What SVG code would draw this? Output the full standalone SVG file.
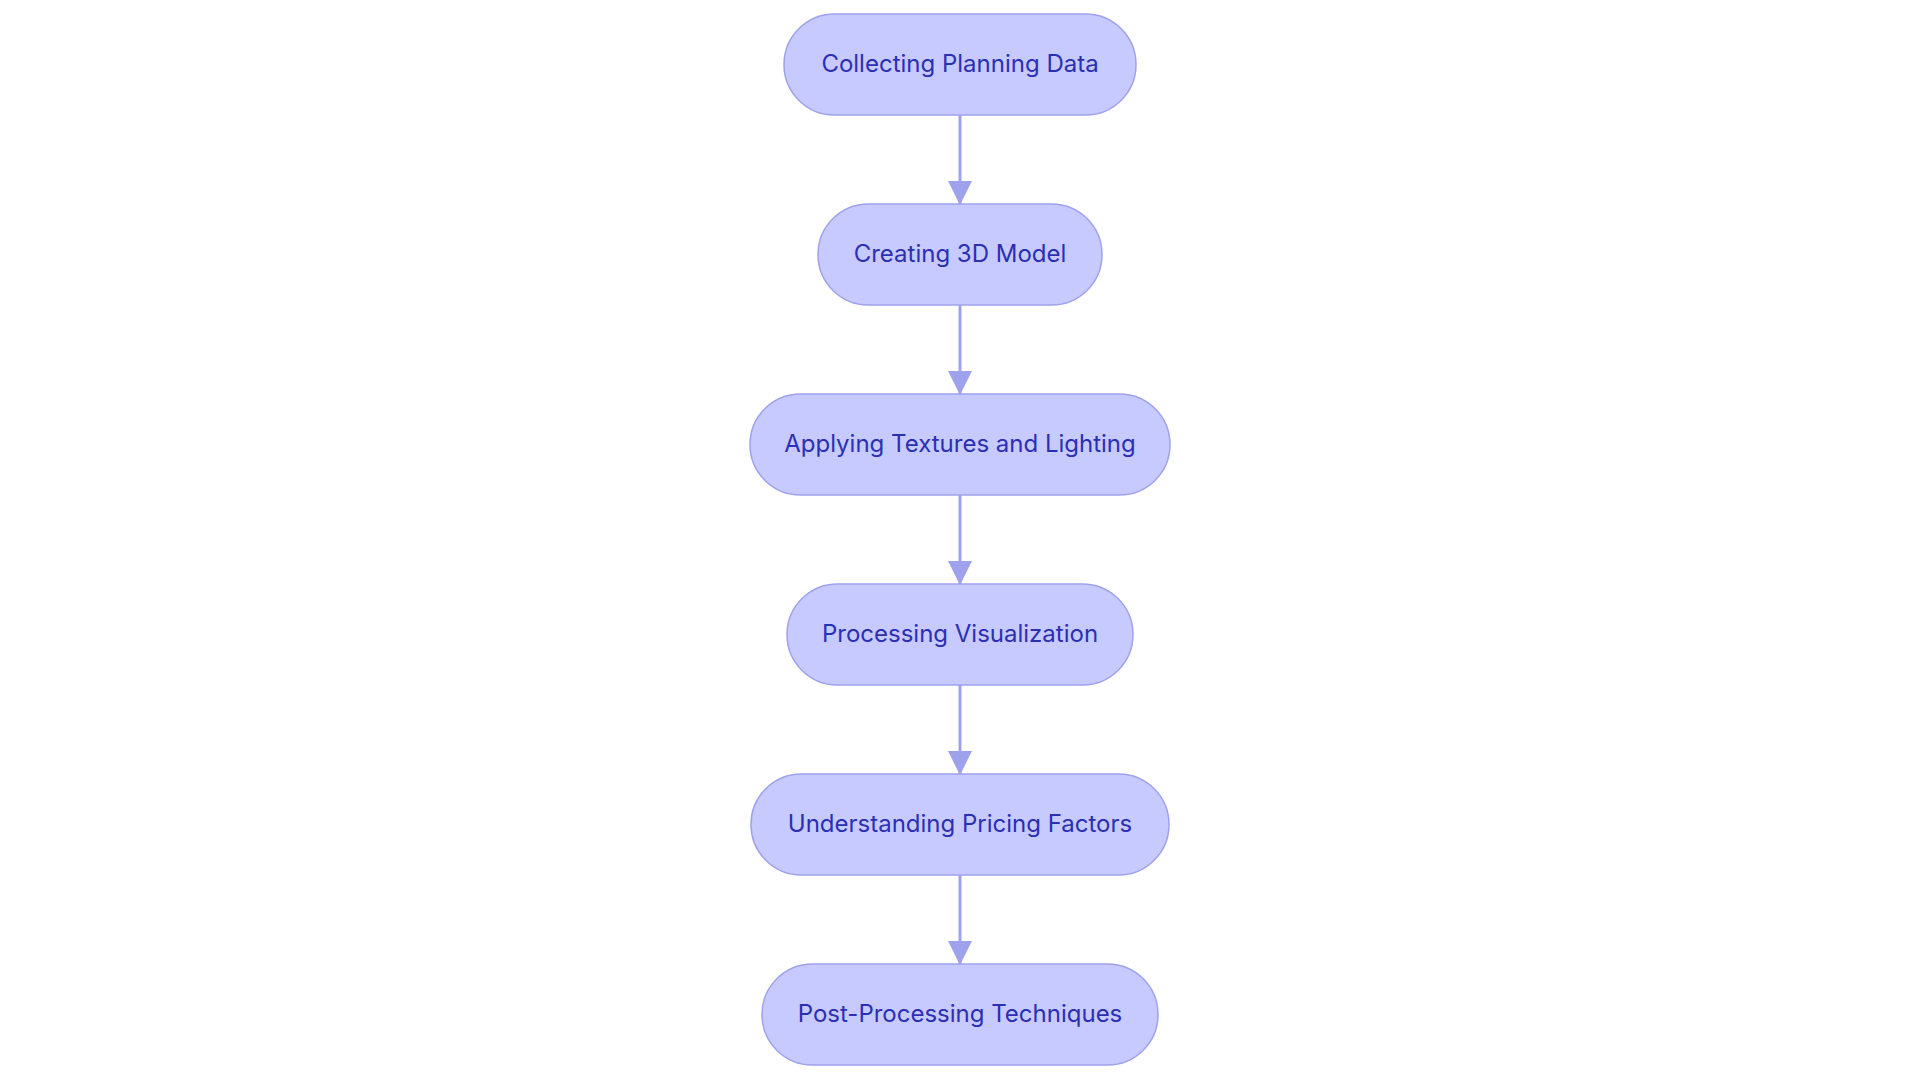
<svg xmlns="http://www.w3.org/2000/svg" width="1920" height="1083" viewBox="0 0 1920 1083">
<style>
.node rect{fill:#C7CAFE;stroke:#9EA2EC;stroke-width:1.5}
.node text{font-family:Inter,"Noto Sans",sans-serif;font-size:24px;fill:#2B2FB3;text-anchor:middle;dominant-baseline:central}
.edge{stroke:#9EA2EC;stroke-width:3;fill:none}
</style>
<defs>
<marker id="arr" markerUnits="userSpaceOnUse" markerWidth="24" markerHeight="24" viewBox="0 0 22 22" refX="21" refY="11" orient="auto">
<path d="M0,0 L22,11 L0,22 Z" fill="#9EA2EC"/>
</marker>
</defs>
<rect width="1920" height="1083" fill="#FFFFFF"/>
<g id="connectors">
<line class="edge" x1="960" y1="115" x2="960" y2="204" marker-end="url(#arr)"/>
<line class="edge" x1="960" y1="305" x2="960" y2="394" marker-end="url(#arr)"/>
<line class="edge" x1="960" y1="495" x2="960" y2="584" marker-end="url(#arr)"/>
<line class="edge" x1="960" y1="685" x2="960" y2="774" marker-end="url(#arr)"/>
<line class="edge" x1="960" y1="875" x2="960" y2="964" marker-end="url(#arr)"/>
</g>
<g id="n1" class="node"><rect x="784" y="14" width="352" height="101" rx="50.5"/><text x="960" y="63">Collecting Planning Data</text></g>
<g id="n2" class="node"><rect x="818" y="204" width="284" height="101" rx="50.5"/><text x="960" y="253">Creating 3D Model</text></g>
<g id="n3" class="node"><rect x="750" y="394" width="420" height="101" rx="50.5"/><text x="960" y="443">Applying Textures and Lighting</text></g>
<g id="n4" class="node"><rect x="787" y="584" width="346" height="101" rx="50.5"/><text x="960" y="633">Processing Visualization</text></g>
<g id="n5" class="node"><rect x="751" y="774" width="418" height="101" rx="50.5"/><text x="960" y="823">Understanding Pricing Factors</text></g>
<g id="n6" class="node"><rect x="762" y="964" width="396" height="101" rx="50.5"/><text x="960" y="1013">Post-Processing Techniques</text></g>
</svg>
